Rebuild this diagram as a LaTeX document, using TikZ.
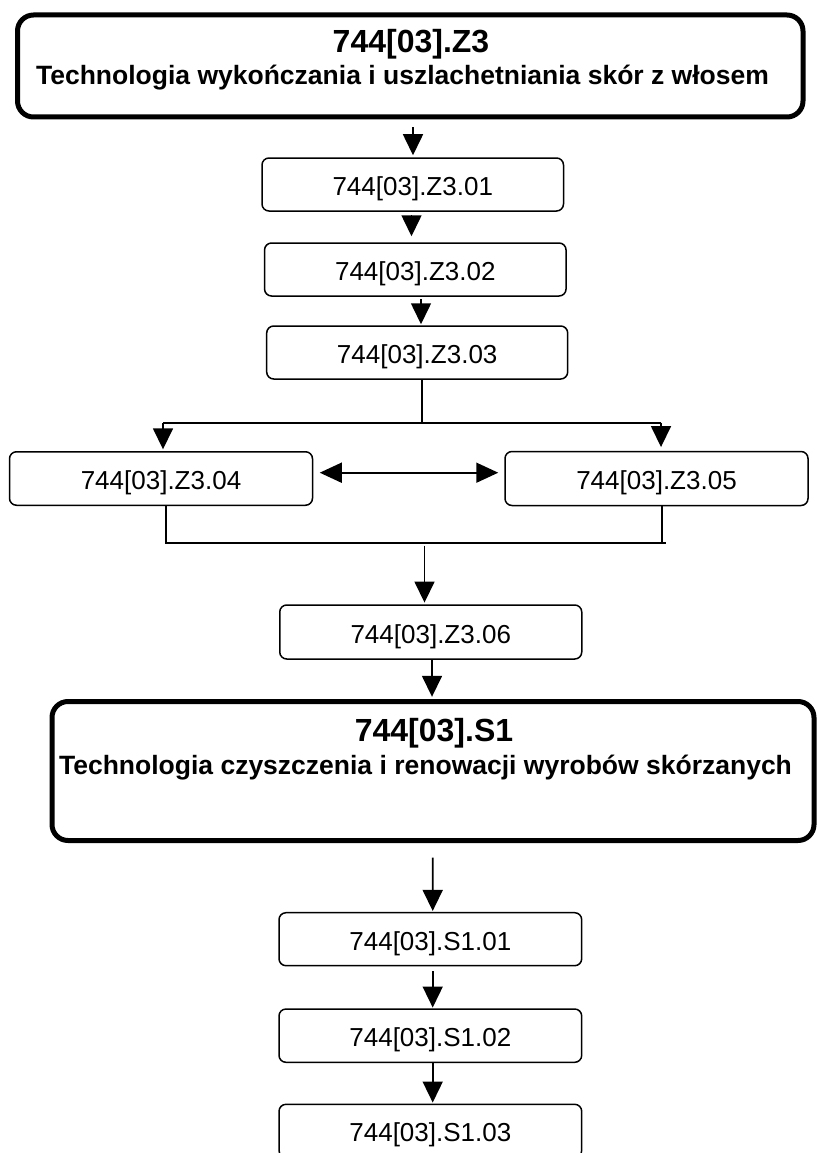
\documentclass[tikz,border=0pt]{standalone}
\usepackage{fontspec}
\setmainfont{Liberation Sans}
\usetikzlibrary{arrows.meta}
\tikzset{
  bigbox/.style={draw, line width=5pt, rounded corners=16pt, inner sep=0pt},
  smallbox/.style={draw, line width=1.5pt, rounded corners=7pt, inner sep=0pt,
    font=\fontsize{26}{30}\selectfont, text height=27pt, text depth=5pt},
  titletext/.style={anchor=base, inner sep=0pt, font=\fontsize{32}{36}\selectfont\bfseries},
  subtext/.style={anchor=base, inner sep=0pt, font=\fontsize{26.5}{30}\selectfont\bfseries},
  conn/.style={line width=1.6pt},
  arr/.style={conn, -{Triangle[length=21pt,width=20pt]}},
  darr/.style={conn, {Triangle[length=22pt,width=20pt]}-{Triangle[length=22pt,width=20pt]}},
}
\begin{document}
\begin{tikzpicture}[x=1pt,y=-1pt]
\useasboundingbox (0,0) rectangle (817,1153);

% top block
\node[bigbox, minimum width=785.5pt, minimum height=102pt] (z3) at (410.25,66) {};
\node[titletext] (z3t) at (411,53) {744[03].Z3};
\node[subtext] (z3s) at (402.5,85) {Technologia wykończania i uszlachetniania skór z włosem};

% modules Z3
\node[smallbox, minimum width=301.5pt, minimum height=53pt] (n01) at (412.75,184.5) {744[03].Z3.01};
\node[smallbox, minimum width=301.5pt, minimum height=53pt] (n02) at (415.3,269.5) {744[03].Z3.02};
\node[smallbox, minimum width=301pt, minimum height=53pt] (n03) at (417.2,352.5) {744[03].Z3.03};
\node[smallbox, minimum width=303pt, minimum height=53.5pt] (n04) at (161,478.5) {744[03].Z3.04};
\node[smallbox, minimum width=303pt, minimum height=54pt] (n05) at (656.5,478.5) {744[03].Z3.05};
\node[smallbox, minimum width=302pt, minimum height=54pt] (n06) at (430.75,632) {744[03].Z3.06};

% bottom block
\node[bigbox, minimum width=762pt, minimum height=139pt] (s1) at (433,771) {};
\node[titletext] (s1t) at (434,741.5) {744[03].S1};
\node[subtext] (s1s) at (425.5,774) {Technologia czyszczenia i renowacji wyrobów skórzanych};

\node[smallbox, minimum width=302.7pt, minimum height=53pt] (s101) at (430.35,939.2) {744[03].S1.01};
\node[smallbox, minimum width=302.7pt, minimum height=53.3pt] (s102) at (430.35,1035.65) {744[03].S1.02};
\node[smallbox, minimum width=302.7pt, minimum height=53pt] (s103) at (430.35,1130.8) {744[03].S1.03};

% helper coordinates
\coordinate (sc) at (422,422.7);
\coordinate (sl) at (163,422.7);
\coordinate (sr) at (661,422.7);
\coordinate (ml) at (165.7,542.7);
\coordinate (mr) at (662,542.7);
\coordinate (mre) at (665.7,542.7);
\coordinate (mc) at (424.5,545.7);

% connectors
\draw[arr, shorten <=8pt, shorten >=2pt] ([xshift=2.75pt]z3.south) -- ([xshift=0.25pt]n01.north);
\draw[arr, shorten <=3pt, shorten >=6pt] ([xshift=-1.25pt]n01.south) -- ([xshift=-3.8pt]n02.north);
\draw[arr, shorten <=2pt, shorten >=1pt] ([xshift=5.7pt]n02.south) -- ([xshift=3.8pt]n03.north);

\draw[conn] ([xshift=4.8pt]n03.south) -- (sc);
\draw[conn] (sl) -- (sr);
\draw[arr, shorten >=1.7pt] (sl) -- ([xshift=2pt]n04.north);
\draw[arr, shorten >=3.7pt] (sr) -- ([xshift=4.5pt]n05.north);

\draw[darr, shorten <=6.5pt, shorten >=6pt] ([yshift=5.8pt]n04.east) -- ([yshift=5.8pt]n05.west);

\draw[conn] ([xshift=4.7pt]n04.south) -- (ml) -- (mre);
\draw[conn] ([xshift=5.5pt]n05.south) -- (mr);
\draw[arr, shorten >=1.7pt] (mc) -- ([xshift=-6.25pt]n06.north);

\draw[arr, shorten >=2.2pt] ([xshift=1.25pt]n06.south) -- ([xshift=-1pt]s1.north);
\draw[arr, shorten <=14.5pt, shorten >=1pt] ([xshift=-0.3pt]s1.south) -- ([xshift=2.35pt]s101.north);
\draw[arr, shorten <=5pt, shorten >=0.7pt] ([xshift=2.35pt]s101.south) -- ([xshift=2.35pt]s102.north);
\draw[arr, shorten >=1pt] ([xshift=2.35pt]s102.south) -- ([xshift=2.35pt]s103.north);
\end{tikzpicture}
\end{document}
